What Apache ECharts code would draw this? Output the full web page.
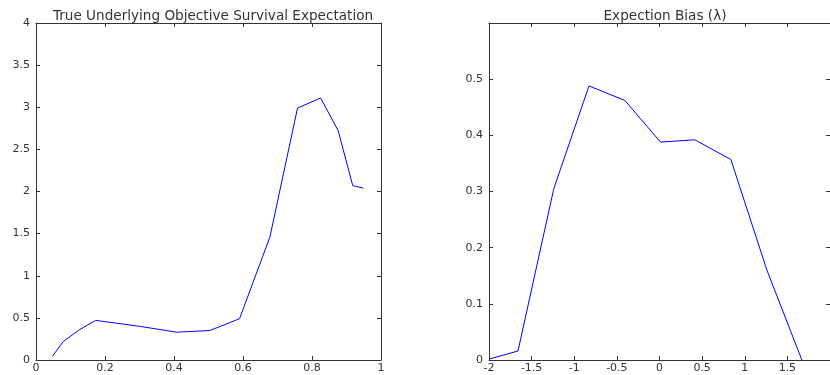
<!DOCTYPE html>
<html>
<head>
<meta charset="utf-8">
<script src="https://cdn.jsdelivr.net/npm/echarts@6/dist/echarts.min.js"></script>
<style>
  html, body { margin: 0; padding: 0; background: #fff; }
  #chart { width: 830px; height: 375px; }
</style>
</head>
<body>
<div id="chart"></div>
<script>
// left panel: true underlying objective survival expectation
const survivalX = [0.048, 0.079, 0.126, 0.173, 0.30, 0.408, 0.504, 0.59, 0.678, 0.758, 0.825, 0.876, 0.918, 0.949];
const survivalY = [0.045, 0.22, 0.36, 0.47, 0.40, 0.33, 0.35, 0.49, 1.46, 2.99, 3.11, 2.72, 2.07, 2.04];

// right panel: expectation bias (lambda)
const biasX = [-1.99, -1.66, -1.24, -0.827, -0.405, 0.011, 0.414, 0.837, 1.26, 1.67];
const biasY = [0.002, 0.016, 0.305, 0.488, 0.462, 0.388, 0.392, 0.357, 0.16, 0.0];

const leftTitle = "True Underlying Objective Survival Expectation";
const rightTitle = "Expection Bias (\u03bb)";

const pairs = (xs, ys) => xs.map((x, i) => [x, ys[i]]);

const chart = echarts.init(document.getElementById("chart"));

const font = "'DejaVu Sans', Verdana, sans-serif";
const axisColor = "#333";
const textColor = "#333";

// bottom / left axes with labels, top / right axes only for the box ticks
const mainX = (grid, min, max, interval, showMax) => ({
  type: "value", gridIndex: grid, min, max, interval,
  axisLine: { show: true, onZero: false, lineStyle: { color: axisColor, width: 1 } },
  axisTick: { show: true, inside: true, length: 4, lineStyle: { color: axisColor } },
  axisLabel: { color: textColor, fontSize: 11, fontFamily: font, margin: 3, showMaxLabel: showMax, showMinLabel: true },
  splitLine: { show: false },
});
const boxX = (grid, min, max, interval) => ({
  type: "value", gridIndex: grid, min, max, interval, position: "top",
  axisLine: { show: true, onZero: false, lineStyle: { color: axisColor, width: 1 } },
  axisTick: { show: true, inside: true, length: 4, lineStyle: { color: axisColor } },
  axisLabel: { show: false },
  splitLine: { show: false },
});
const mainY = (grid, min, max, interval, fmt) => ({
  type: "value", gridIndex: grid, min, max, interval,
  axisLine: { show: true, onZero: false, lineStyle: { color: axisColor, width: 1 } },
  axisTick: { show: true, inside: true, length: 4, lineStyle: { color: axisColor } },
  axisLabel: { color: textColor, fontSize: 11, fontFamily: font, margin: 6, formatter: fmt },
  splitLine: { show: false },
});
const boxY = (grid, min, max, interval) => ({
  type: "value", gridIndex: grid, min, max, interval, position: "right",
  axisLine: { show: true, onZero: false, lineStyle: { color: axisColor, width: 1 } },
  axisTick: { show: true, inside: true, length: 4, lineStyle: { color: axisColor } },
  axisLabel: { show: false },
  splitLine: { show: false },
});

chart.setOption({
  animation: false,
  title: [
    { text: leftTitle, left: 208, top: 4, textAlign: "center",
      textStyle: { fontSize: 13.6, fontWeight: "normal", color: textColor, fontFamily: font } },
    { text: rightTitle, left: 660, top: 4, textAlign: "center",
      textStyle: { fontSize: 13.6, fontWeight: "normal", color: textColor, fontFamily: font } },
  ],
  grid: [
    { left: 36, right: 449, top: 23, bottom: 15 },
    { left: 489, right: -5, top: 23, bottom: 15 },
  ],
  xAxis: [
    mainX(0, 0, 1, 0.2, true),
    boxX(0, 0, 1, 0.2),
    mainX(1, -2, 2, 0.5, false),
    boxX(1, -2, 2, 0.5),
  ],
  yAxis: [
    mainY(0, 0, 4, 0.5),
    boxY(0, 0, 4, 0.5),
    mainY(1, 0, 0.6, 0.1, v => (v >= 0.59 ? "" : String(+v.toFixed(1)))),
    boxY(1, 0, 0.6, 0.1),
  ],
  series: [
    { type: "line", xAxisIndex: 0, yAxisIndex: 0, data: pairs(survivalX, survivalY),
      symbol: "none", lineStyle: { color: "#0000ff", width: 1 } },
    { type: "line", xAxisIndex: 2, yAxisIndex: 2, data: pairs(biasX, biasY),
      symbol: "none", lineStyle: { color: "#0000ff", width: 1 } },
  ],
});
</script>
</body>
</html>
